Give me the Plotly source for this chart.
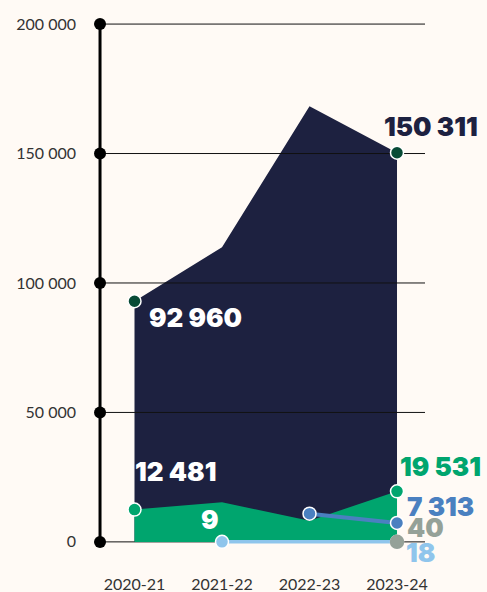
import plotly.graph_objects as go

years = ["2020-21", "2021-22", "2022-23", "2023-24"]
navy_vals = [92960, 113800, 168300, 150311]
green_vals = [12481, 15300, 8200, 19531]
blue_vals = [None, None, 10900, 7313]
grey_vals = [None, None, None, 40]
lightblue_vals = [None, 9, 12, 18]
y_ticks = [0, 50000, 100000, 150000, 200000]

NAVY = "#1d2140"
DKGREEN = "#084b36"
GREEN = "#00a56e"
BLUE = "#4a80c0"
GREY = "#95a198"
LBLUE = "#8fc5ec"
BG = "#fffaf5"

xs = list(range(len(years)))
AXIS_X = -0.394   # where the black y axis sits
GRID_END = 3.32   # right end of grid lines


def fmt(v):
    return f"{v:,}".replace(",", " ")


def ends(vals):
    # first and last defined point of a series
    idx = [i for i, v in enumerate(vals) if v is not None]
    pick = sorted(set([idx[0], idx[-1]]))
    return [xs[i] for i in pick], [vals[i] for i in pick]


fig = go.Figure()

# big navy area
fig.add_trace(go.Scatter(x=xs, y=navy_vals, mode="lines", fill="tozeroy",
                         fillcolor=NAVY, line=dict(width=0, color=NAVY),
                         hoverinfo="skip"))

# grid lines (drawn over the navy area, like the original)
for t in y_ticks:
    fig.add_trace(go.Scatter(x=[AXIS_X, GRID_END], y=[t, t], mode="lines",
                             line=dict(color="#111", width=1), hoverinfo="skip"))

# green area
fig.add_trace(go.Scatter(x=xs, y=green_vals, mode="lines", fill="tozeroy",
                         fillcolor=GREEN, line=dict(width=0, color=GREEN),
                         hoverinfo="skip"))

# thin series
fig.add_trace(go.Scatter(x=xs, y=lightblue_vals, mode="lines",
                         line=dict(color=LBLUE, width=3.5), hoverinfo="skip"))
fig.add_trace(go.Scatter(x=xs, y=blue_vals, mode="lines",
                         line=dict(color=BLUE, width=4), hoverinfo="skip"))

# y axis line with dots
fig.add_trace(go.Scatter(x=[AXIS_X] * len(y_ticks), y=y_ticks, mode="lines+markers",
                         line=dict(color="black", width=3),
                         marker=dict(color="black", size=12),
                         cliponaxis=False, hoverinfo="skip"))

# end markers
for vals, col, outline in [(navy_vals, DKGREEN, "white"),
                           (green_vals, GREEN, "white"),
                           (lightblue_vals, LBLUE, "white"),
                           (grey_vals, GREY, GREY),
                           (blue_vals, BLUE, "white")]:
    mx, my = ends(vals)
    fig.add_trace(go.Scatter(x=mx, y=my, mode="markers", cliponaxis=False,
                             marker=dict(color=col, size=13,
                                         line=dict(color=outline, width=1.5)),
                             hoverinfo="skip"))

# value labels
labels = [
    (0, navy_vals[0], "white", 12, -16),
    (3, navy_vals[3], NAVY, -15, 26),
    (0, green_vals[0], "white", -2, 38),
    (1, lightblue_vals[1], "white", -23, 22),
    (3, green_vals[3], GREEN, 1, 25),
    (3, blue_vals[3], BLUE, 8, 16),
    (3, grey_vals[3], GREY, 8, 14),
    (3, lightblue_vals[3], LBLUE, 7, -11),
]
for xi, v, col, dx, dy in labels:
    fig.add_annotation(x=xs[xi], y=v, text=fmt(v), showarrow=False,
                       xanchor="left", yanchor="middle", xshift=dx, yshift=dy,
                       font=dict(family="Inter", size=26, color=col, weight=900))

fig.update_layout(
    width=487, height=592,
    margin=dict(l=96, r=57, t=22, b=47),
    paper_bgcolor=BG, plot_bgcolor=BG,
    showlegend=False,
    font=dict(family="Lato", size=16, color="#333"),
)
fig.update_xaxes(range=[-0.44, 3.377], showgrid=False, zeroline=False,
                 automargin=False,
                 tickvals=xs, ticktext=years, ticks="", ticklabelstandoff=28)
fig.update_yaxes(range=[-1200, 200800], showgrid=False, zeroline=False,
                 automargin=False,
                 tickvals=y_ticks, ticktext=[fmt(t) for t in y_ticks],
                 ticks="", ticklabelstandoff=19)

fig.write_html("out.html", config={"displayModeBar": False},
               post_script="document.body.style.margin='0';"
                           "document.body.style.background='" + BG + "';")
